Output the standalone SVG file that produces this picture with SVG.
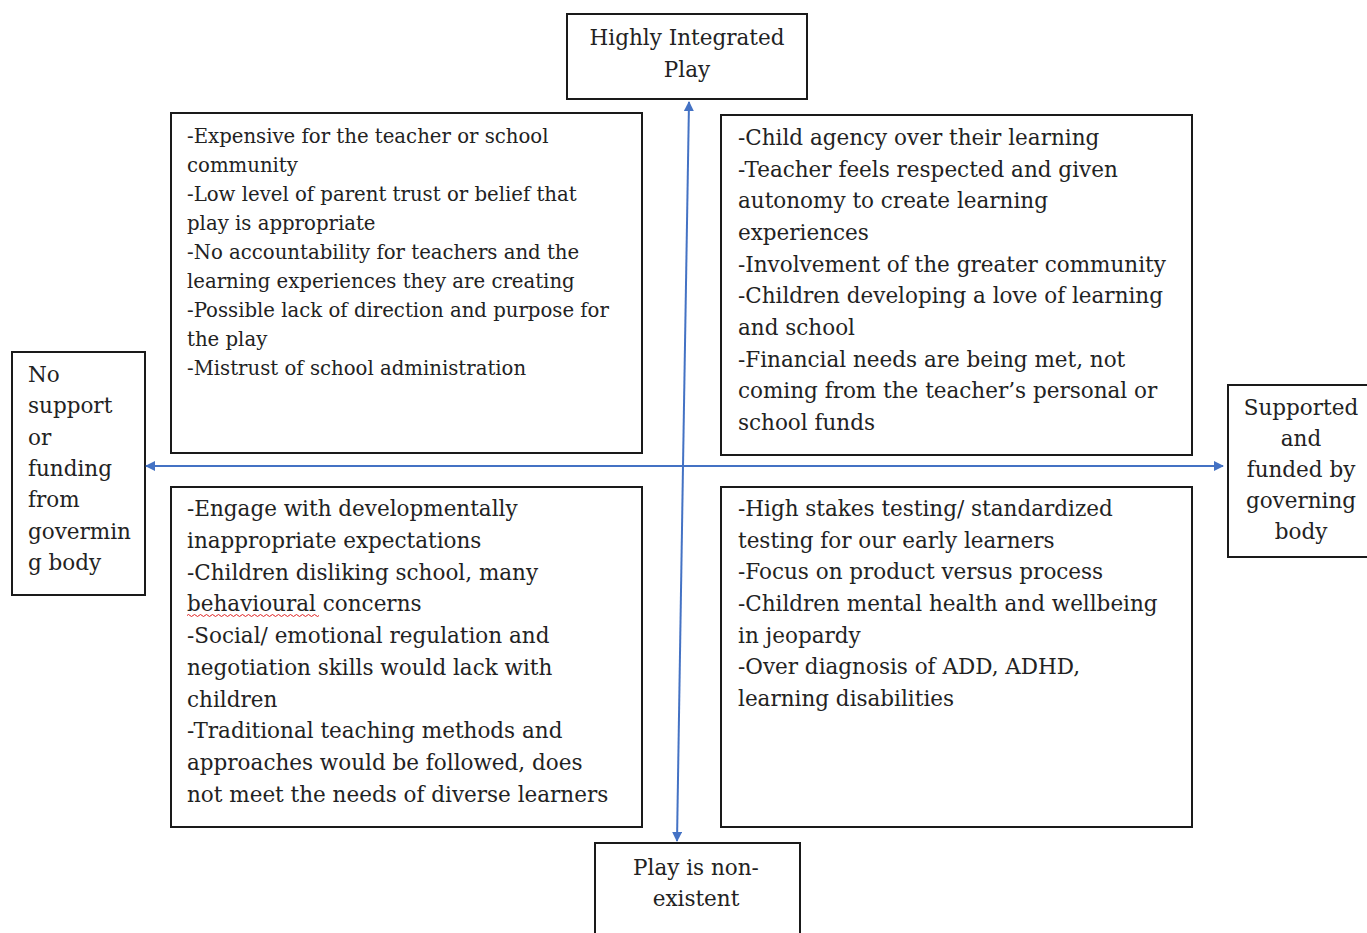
<svg xmlns="http://www.w3.org/2000/svg" width="1367" height="933" viewBox="0 0 1367 933">
<style>
.box{fill:#fff;stroke:#1a1a1a;stroke-width:2}
text{font-family:"DejaVu Serif","Liberation Serif",serif;fill:#222}
.t{font-size:21.5px}
.s{font-size:19.7px}
.c{text-anchor:middle}
.ax{stroke:#4472C4;stroke-width:2;fill:none}
</style>
<defs>
<marker id="ah" viewBox="0 0 10 10" refX="9" refY="5" markerWidth="5" markerHeight="5" orient="auto" markerUnits="strokeWidth">
<path d="M0,0 L10,5 L0,10 z" fill="#4472C4"/>
</marker>
</defs>
<rect width="1367" height="933" fill="#fff"/>

<g id="top-node">
<rect class="box" x="567" y="14" width="240" height="85"/>
<text class="t c" x="687" y="45">Highly Integrated</text>
<text class="t c" x="687" y="77">Play</text>
</g>

<g id="left-node">
<rect class="box" x="12" y="352" width="133" height="243"/>
<text class="t" x="28" y="382">No</text>
<text class="t" x="28" y="413.3">support</text>
<text class="t" x="28" y="444.6">or</text>
<text class="t" x="28" y="475.9">funding</text>
<text class="t" x="28" y="507.2">from</text>
<text class="t" x="28" y="538.5">govermin</text>
<text class="t" x="28" y="569.8">g body</text>
</g>

<g id="right-node">
<rect class="box" x="1228" y="385" width="150" height="172"/>
<text class="t c" x="1301" y="415">Supported</text>
<text class="t c" x="1301" y="446">and</text>
<text class="t c" x="1301" y="477">funded by</text>
<text class="t c" x="1301" y="508">governing</text>
<text class="t c" x="1301" y="539">body</text>
</g>

<g id="bottom-node">
<rect class="box" x="595" y="843" width="205" height="100"/>
<text class="t c" x="696" y="875">Play is non-</text>
<text class="t c" x="696" y="906">existent</text>
</g>

<g id="quad-top-left">
<rect class="box" x="171" y="113" width="471" height="340"/>
<text class="s" x="187" y="143">-Expensive for the teacher or school</text>
<text class="s" x="187" y="172">community</text>
<text class="s" x="187" y="201">-Low level of parent trust or belief that</text>
<text class="s" x="187" y="230">play is appropriate</text>
<text class="s" x="187" y="259">-No accountability for teachers and the</text>
<text class="s" x="187" y="288">learning experiences they are creating</text>
<text class="s" x="187" y="317">-Possible lack of direction and purpose for</text>
<text class="s" x="187" y="346">the play</text>
<text class="s" x="187" y="375">-Mistrust of school administration</text>
</g>

<g id="quad-top-right">
<rect class="box" x="721" y="115" width="471" height="340"/>
<text class="t" x="738" y="145">-Child agency over their learning</text>
<text class="t" x="738" y="176.7">-Teacher feels respected and given</text>
<text class="t" x="738" y="208.3">autonomy to create learning</text>
<text class="t" x="738" y="240">experiences</text>
<text class="t" x="738" y="271.7">-Involvement of the greater community</text>
<text class="t" x="738" y="303.3">-Children developing a love of learning</text>
<text class="t" x="738" y="335">and school</text>
<text class="t" x="738" y="366.7">-Financial needs are being met, not</text>
<text class="t" x="738" y="398.3">coming from the teacher’s personal or</text>
<text class="t" x="738" y="430">school funds</text>
</g>

<g id="quad-bottom-left">
<rect class="box" x="171" y="487" width="471" height="340"/>
<text class="t" x="187" y="516">-Engage with developmentally</text>
<text class="t" x="187" y="547.7">inappropriate expectations</text>
<text class="t" x="187" y="579.5">-Children disliking school, many</text>
<text class="t" x="187" y="611.2">behavioural concerns</text>
<path d="M187,615.5 q1.5,-2 3,0 t3,0 t3,0 t3,0 t3,0 t3,0 t3,0 t3,0 t3,0 t3,0 t3,0 t3,0 t3,0 t3,0 t3,0 t3,0 t3,0 t3,0 t3,0 t3,0 t3,0 t3,0 t3,0 t3,0 t3,0 t3,0 t3,0 t3,0 t3,0 t3,0 t3,0 t3,0 t3,0 t3,0 t3,0 t3,0 t3,0 t3,0 t3,0 t3,0 t3,0 t3,0 t3,0 t3,0" fill="none" stroke="#e02020" stroke-width="1"/>
<text class="t" x="187" y="643">-Social/ emotional regulation and</text>
<text class="t" x="187" y="674.7">negotiation skills would lack with</text>
<text class="t" x="187" y="706.5">children</text>
<text class="t" x="187" y="738.2">-Traditional teaching methods and</text>
<text class="t" x="187" y="770">approaches would be followed, does</text>
<text class="t" x="187" y="801.7">not meet the needs of diverse learners</text>
</g>

<g id="quad-bottom-right">
<rect class="box" x="721" y="487" width="471" height="340"/>
<text class="t" x="738" y="516">-High stakes testing/ standardized</text>
<text class="t" x="738" y="547.7">testing for our early learners</text>
<text class="t" x="738" y="579.3">-Focus on product versus process</text>
<text class="t" x="738" y="611">-Children mental health and wellbeing</text>
<text class="t" x="738" y="642.7">in jeopardy</text>
<text class="t" x="738" y="674.3">-Over diagnosis of ADD, ADHD,</text>
<text class="t" x="738" y="706">learning disabilities</text>
</g>

<g id="connectors">
<line class="ax" x1="683" y1="466" x2="689" y2="102" marker-end="url(#ah)"/>
<line class="ax" x1="683" y1="466" x2="677" y2="841" marker-end="url(#ah)"/>
<line class="ax" x1="683" y1="466" x2="146" y2="466" marker-end="url(#ah)"/>
<line class="ax" x1="683" y1="466" x2="1223" y2="466" marker-end="url(#ah)"/>
</g>
</svg>
